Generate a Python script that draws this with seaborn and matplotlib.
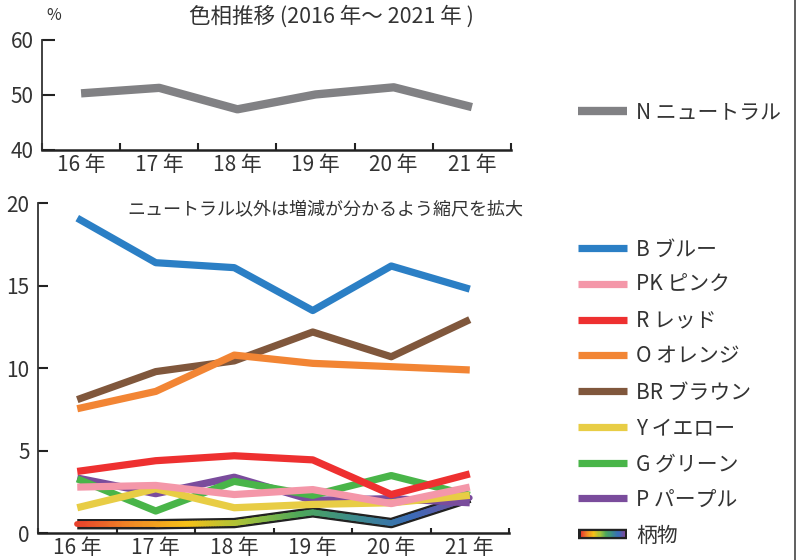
import numpy as np
import pandas as pd
import matplotlib
matplotlib.use("Agg")
import matplotlib.pyplot as plt
import seaborn as sns
from matplotlib.lines import Line2D
from matplotlib.collections import LineCollection
from matplotlib.colors import LinearSegmentedColormap
from matplotlib.legend_handler import HandlerBase

# ---- data ----
years = ["16 年", "17 年", "18 年", "19 年", "20 年", "21 年"]
neutral = [50.3, 51.3, 47.4, 50.1, 51.4, 47.8]

blue = [19.1, 16.4, 16.1, 13.5, 16.2, 14.8]
pink = [2.8, 2.9, 2.35, 2.65, 1.8, 2.8]
red = [3.75, 4.4, 4.7, 4.45, 2.35, 3.6]
orange = [7.55, 8.6, 10.8, 10.3, 10.1, 9.9]
brown = [8.1, 9.8, 10.45, 12.2, 10.7, 12.95]
yellow = [1.55, 2.7, 1.55, 1.75, 1.85, 2.3]
green = [3.3, 1.35, 3.15, 2.3, 3.5, 2.3]
purple = [3.35, 2.4, 3.4, 2.0, 2.1, 1.85]
pattern = [0.55, 0.55, 0.62, 1.27, 0.62, 2.15]

labels = ["B ブルー", "PK ピンク", "R レッド", "O オレンジ", "BR ブラウン",
          "Y イエロー", "G グリーン", "P パープル", "柄物"]
series = [blue, pink, red, orange, brown, yellow, green, purple, pattern]
colors = ["#2b7fc5", "#f497a9", "#ee3030", "#f28534", "#80573c",
          "#e8cd45", "#49b549", "#7a4c9c", "#222222"]
neutral_label = "N ニュートラル"
title = "色相推移 (2016 年～ 2021 年 )"
subtitle = "ニュートラル以外は増減が分かるよう縮尺を拡大"

grad_cmap = LinearSegmentedColormap.from_list(
    "pat", ["#e8412c", "#f08a25", "#f5c118", "#a6c23a", "#4ea85a",
            "#3b8a8c", "#3a6cb8", "#7a4c9c"])

# ---- style ----
sns.set_theme(style="white")
plt.rcParams["font.family"] = ["Noto Sans CJK JP", "DejaVu Sans"]
TXT = "#333333"
FS = 15

fig = plt.figure(figsize=(7.96, 5.6), dpi=100)
W, H = 796, 560
ax1 = fig.add_axes([42 / W, 1 - 150 / H, (511 - 42) / W, 110 / H])
ax2 = fig.add_axes([38 / W, 1 - 533.3 / H, (509 - 38) / W, 330 / H])

df_n = pd.DataFrame({"year": years, "value": neutral})
sns.lineplot(data=df_n, x="year", y="value", ax=ax1, color="#818184",
             lw=6, solid_capstyle="butt", sort=False)

# bottom panel: pattern first (outline), then others in reverse legend order
df_p = pd.DataFrame({"year": years, "value": pattern})
sns.lineplot(data=df_p, x="year", y="value", ax=ax2, color="#222222",
             lw=7.5, solid_capstyle="butt", sort=False, zorder=2)
# gradient fill of the pattern line
xs = np.arange(len(years), dtype=float)
segs, cvals = [], []
n_sub = 30
for i in range(len(xs) - 1):
    for k in range(n_sub):
        t0, t1 = k / n_sub, (k + 1) / n_sub
        xa = xs[i] + (xs[i + 1] - xs[i]) * t0
        xb = xs[i] + (xs[i + 1] - xs[i]) * t1
        ya = pattern[i] + (pattern[i + 1] - pattern[i]) * t0
        yb = pattern[i] + (pattern[i + 1] - pattern[i]) * t1
        segs.append([(xa, ya), (xb, yb)])
        cvals.append(((xa + xb) / 2) / xs[-1])
lc = LineCollection(segs, colors=grad_cmap(np.array(cvals)), linewidths=4.2,
                    capstyle="round", zorder=2.1)
ax2.add_collection(lc)

for s, c in list(zip(series[:-1], colors[:-1]))[::-1]:
    d = pd.DataFrame({"year": years, "value": s})
    sns.lineplot(data=d, x="year", y="value", ax=ax2, color=c, lw=5.2,
                 solid_capstyle="butt", sort=False, zorder=3)

# ---- axes formatting ----
def fmt(ax, ylim, yticks, xtick_len, ytick_len):
    ax.set_xlim(-0.5, len(years) - 0.5)
    ax.set_ylim(*ylim)
    ax.set_xlabel("")
    ax.set_ylabel("")
    for sp in ["top", "right"]:
        ax.spines[sp].set_visible(False)
    ax.spines["left"].set_color(TXT)
    ax.spines["left"].set_linewidth(1.3)
    ax.spines["bottom"].set_color("#222222")
    ax.spines["bottom"].set_linewidth(1.8)
    ax.set_xticks(np.arange(-0.5, len(years), 1.0))
    ax.set_xticklabels([])
    ax.set_xticks(np.arange(len(years)), minor=True)
    ax.set_xticklabels(years, minor=True)
    ax.tick_params(axis="x", which="major", direction="in", length=xtick_len,
                   width=1.5, color="#222222", bottom=True)
    ax.tick_params(axis="x", which="minor", length=0, pad=3,
                   labelsize=FS, labelcolor=TXT, bottom=True)
    ax.set_yticks(yticks)
    ax.set_yticklabels([str(v) for v in yticks])
    ax.tick_params(axis="y", direction="in", length=ytick_len, width=1.5,
                   color="#222222", labelsize=FS, labelcolor=TXT, pad=6, left=True)
    ax.patch.set_alpha(0)

fmt(ax1, (40, 60), [40, 50, 60], 5, 9)
fmt(ax2, (0, 20), [0, 5, 10, 15, 20], 3.5, 7)
ax1.get_legend() and ax1.get_legend().remove()
ax2.get_legend() and ax2.get_legend().remove()

# ---- texts ----
fig.text(331 / W, 1 - 17 / H, title, ha="center", va="center",
         fontsize=FS + 0.5, color=TXT)
fig.text(54 / W, 1 - 16 / H, "%", ha="center", va="center",
         fontsize=11.5, color=TXT)
fig.text(325 / W, 1 - 209 / H, subtitle, ha="center", va="center",
         fontsize=13, color=TXT)

# ---- legends ----
class GradHandler(HandlerBase):
    def create_artists(self, legend, orig_handle, xdescent, ydescent,
                       width, height, fontsize, trans):
        y = height / 2 - ydescent
        x0, x1 = -xdescent, width - xdescent
        border = Line2D([x0, x1], [y, y], color="#222222", lw=7.5,
                        solid_capstyle="butt", transform=trans)
        n = 40
        gx = np.linspace(x0 + 1.5, x1 - 1.5, n + 1)
        sg = [[(gx[i], y), (gx[i + 1], y)] for i in range(n)]
        glc = LineCollection(sg, colors=grad_cmap(np.linspace(0, 1, n)),
                             linewidths=4.2, transform=trans, capstyle="butt")
        return [border, glc]

handles = [Line2D([], [], color=c, lw=5.2, solid_capstyle="butt")
           for c in colors[:-1]]
pat_handle = Line2D([], [], color="#222222", lw=7)
handles.append(pat_handle)

leg = fig.legend(handles, labels, loc="upper left",
                 bbox_to_anchor=(568 / W, 1 - 228 / H),
                 frameon=False, fontsize=FS, handlelength=2.35,
                 handletextpad=0.42, labelspacing=0.66, borderpad=0,
                 handler_map={pat_handle: GradHandler()})
for t in leg.get_texts():
    t.set_color(TXT)

leg2 = fig.legend([Line2D([], [], color="#818184", lw=6, solid_capstyle="butt")],
                  [neutral_label], loc="upper left",
                  bbox_to_anchor=(568 / W, 1 - 91 / H), frameon=False,
                  fontsize=FS, handlelength=2.35, handletextpad=0.42, borderpad=0)
for t in leg2.get_texts():
    t.set_color(TXT)

fig.add_artist(Line2D([794.5 / W, 794.5 / W], [0, 1], color="#444444", lw=1.2,
                      transform=fig.transFigure))

fig.savefig("out.png", dpi=100)
